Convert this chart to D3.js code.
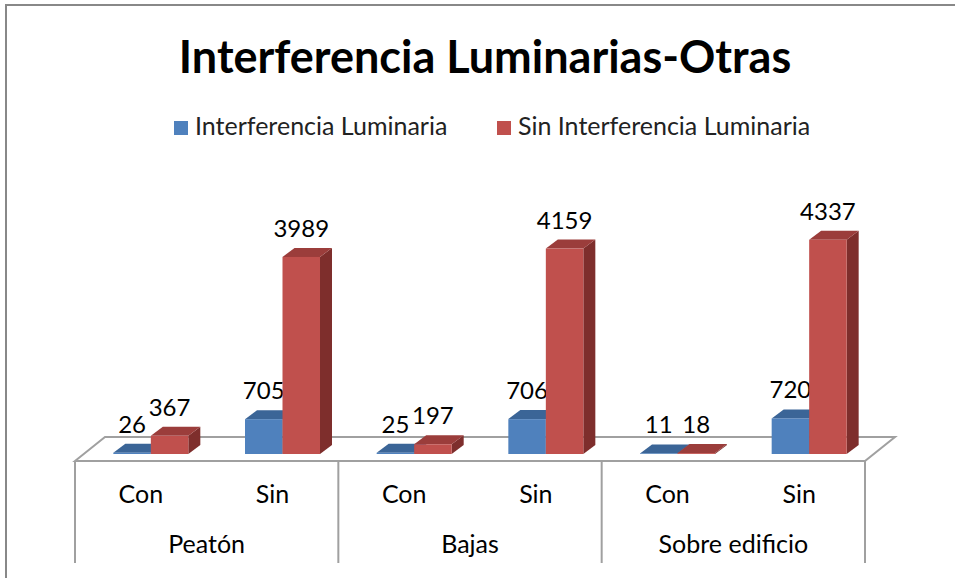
<!DOCTYPE html>
<html>
<head>
<meta charset="utf-8">
<script src="https://cdn.jsdelivr.net/npm/d3@7"></script>
<style>
  body { margin: 0; background: #fff; }
  text { font-family: Lato, "Open Sans", sans-serif; fill: #000; }
</style>
</head>
<body>
<div id="chart"></div>
<script>
// data
var categories = ["Con", "Sin", "Con", "Sin", "Con", "Sin"];
var groups = ["Peatón", "Bajas", "Sobre edificio"];
var seriesNames = ["Interferencia Luminaria", "Sin Interferencia Luminaria"];
var interferencia = [26, 705, 25, 706, 11, 720];
var sinInterferencia = [367, 3989, 197, 4159, 18, 4337];

var width = 955, height = 578;

// colours: front, top, side
var colors = [
  { front: "#4F81BD", top: "#3B6597", side: "#2E5079" },
  { front: "#C0504D", top: "#9B3D3B", side: "#7E2E2C" }
];

var svg = d3.select("#chart").append("svg")
    .attr("width", width)
    .attr("height", height);

// outer chart frame (runs off the right and bottom of the picture)
svg.append("path")
  .attr("d", "M6," + height + "V5H" + width)
  .attr("fill", "none")
  .attr("stroke", "#888")
  .attr("stroke-width", 2);

// scales
var x = d3.scaleBand()
    .domain(d3.range(categories.length))
    .range([75, 865]);

var xg = d3.scaleBand()
    .domain(d3.range(groups.length))
    .range([75, 865]);

var barW = 37.5;
var xs = d3.scaleBand()
    .domain([0, 1])
    .range([x.bandwidth() / 2 - barW, x.bandwidth() / 2 + barW]);

var y = d3.scaleLinear()
    .domain([0, 5000])
    .range([454, 207]);

var shift = 10;          // bars sit a little into the floor
var dx = 12, dy = -9;    // bar depth
var floorFront = 461, floorDx = 30, floorDy = -24;

// title
svg.append("text")
  .attr("x", 485)
  .attr("y", 73)
  .attr("text-anchor", "middle")
  .style("font-size", "45px")
  .style("font-weight", "bold")
  .text("Interferencia Luminarias-Otras");

// legend
var legendX = [174, 497];
var legend = svg.selectAll(".legend")
    .data(seriesNames)
  .enter().append("g")
    .attr("class", "legend")
    .attr("transform", function(d, i) { return "translate(" + legendX[i] + ",121)"; });

legend.append("rect")
  .attr("width", 14)
  .attr("height", 14)
  .attr("fill", function(d, i) { return colors[i].front; });

legend.append("text")
  .attr("x", 21)
  .attr("y", 14)
  .style("font-size", "25px")
  .style("fill", "#222")
  .text(function(d) { return d; });

// floor
var x0 = x.range()[0], x1 = x.range()[1];
svg.append("path")
  .attr("d", "M" + x0 + "," + floorFront +
    "L" + (x0 + floorDx) + "," + (floorFront + floorDy) +
    "L" + (x1 + floorDx) + "," + (floorFront + floorDy) +
    "L" + x1 + "," + floorFront + "Z")
  .attr("fill", "#fff")
  .attr("stroke", "#A0A0A0")
  .attr("stroke-width", 2);

// bars
var bars = [];
categories.forEach(function(c, i) {
  [interferencia[i], sinInterferencia[i]].forEach(function(v, s) {
    bars.push({ cat: i, s: s, value: v });
  });
});

var bar = svg.selectAll(".bar")
    .data(bars)
  .enter().append("g")
    .attr("class", "bar");

function pos(d) {
  var left = x(d.cat) + xs(d.s) + shift;
  return { l: left, r: left + xs.bandwidth(), t: y(d.value), b: y(0) };
}

bar.append("path")
  .attr("fill", function(d) { return colors[d.s].side; })
  .attr("d", function(d) {
    var p = pos(d);
    return "M" + p.r + "," + p.t + "L" + (p.r + dx) + "," + (p.t + dy) +
      "L" + (p.r + dx) + "," + (p.b + dy) + "L" + p.r + "," + p.b + "Z";
  });

bar.append("path")
  .attr("fill", function(d) { return colors[d.s].top; })
  .attr("d", function(d) {
    var p = pos(d);
    return "M" + p.l + "," + p.t + "L" + p.r + "," + p.t +
      "L" + (p.r + dx) + "," + (p.t + dy) + "L" + (p.l + dx) + "," + (p.t + dy) + "Z";
  });

bar.append("rect")
  .attr("fill", function(d) { return colors[d.s].front; })
  .attr("x", function(d) { return pos(d).l; })
  .attr("y", function(d) { return pos(d).t; })
  .attr("width", xs.bandwidth())
  .attr("height", function(d) { return y(0) - y(d.value); });

// value labels
bar.append("text")
  .attr("x", function(d) { var p = pos(d); return (p.l + p.r) / 2; })
  .attr("y", function(d) { return pos(d).t + dy - 11; })
  .attr("text-anchor", "middle")
  .style("font-size", "24px")
  .text(function(d) { return d.value; });

// category axis (two levels)
var axisBottom = 563;
svg.append("line")
  .attr("x1", x0).attr("x2", x1)
  .attr("y1", floorFront).attr("y2", floorFront)
  .attr("stroke", "#A0A0A0").attr("stroke-width", 2);

var seps = xg.domain().map(function(g) { return xg(g); }).concat([x1]);
svg.selectAll(".sep")
    .data(seps)
  .enter().append("line")
    .attr("class", "sep")
    .attr("x1", function(d) { return d; })
    .attr("x2", function(d) { return d; })
    .attr("y1", floorFront)
    .attr("y2", axisBottom)
    .attr("stroke", "#A0A0A0")
    .attr("stroke-width", 2);

svg.selectAll(".cat")
    .data(categories)
  .enter().append("text")
    .attr("class", "cat")
    .attr("x", function(d, i) { return x(i) + x.bandwidth() / 2; })
    .attr("y", 503)
    .attr("text-anchor", "middle")
    .style("font-size", "25px")
    .text(function(d) { return d; });

svg.selectAll(".grp")
    .data(groups)
  .enter().append("text")
    .attr("class", "grp")
    .attr("x", function(d, i) { return xg(i) + xg.bandwidth() / 2; })
    .attr("y", 553)
    .attr("text-anchor", "middle")
    .style("font-size", "25px")
    .text(function(d) { return d; });
</script>
</body>
</html>
